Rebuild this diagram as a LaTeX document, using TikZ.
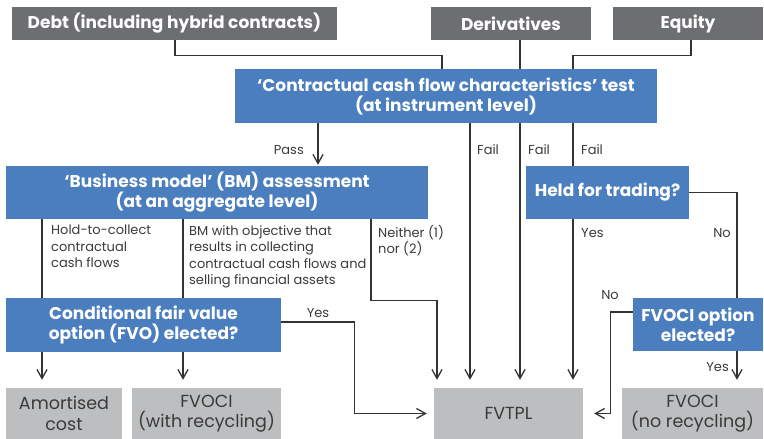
\documentclass[tikz,border=0pt]{standalone}
\usepackage{fontspec}
\setmainfont{Poppins}
\usetikzlibrary{arrows.meta}
\definecolor{bluebox}{HTML}{4A7EBF}
\definecolor{darkbox}{HTML}{6D6E71}
\definecolor{lightbox}{HTML}{BCBEC0}
\definecolor{linec}{HTML}{333333}
\definecolor{textc}{HTML}{3A3A3A}
\tikzset{
  topbox/.style={fill=darkbox, text=white, font=\fontsize{17}{20}\selectfont\bfseries, inner sep=0pt, minimum height=33pt, align=center},
  bluebx/.style={fill=bluebox, text=white, font=\fontsize{17}{20}\selectfont\bfseries, inner sep=0pt, align=center},
  resbox/.style={fill=lightbox, text=textc, font=\fontsize{17.5}{20.5}\selectfont, inner sep=0pt, minimum height=51pt, align=center},
  lbl/.style={text=textc, font=\fontsize{13}{16.5}\selectfont, inner sep=0pt, align=left},
  conn/.style={draw=linec, line width=1.3pt},
  arr/.style={conn, -{Straight Barb[length=9pt,width=10pt]}, shorten >=8pt},
}
\begin{document}
\begin{tikzpicture}[x=1pt,y=-1pt]
\useasboundingbox (0,0) rectangle (764,439);
% top boxes
\node[topbox, minimum width=325pt] (debt) at (174.5,23.5) {Debt (including hybrid contracts)};
\node[topbox, minimum width=160pt] (deriv) at (511,23.5) {Derivatives};
\node[topbox, minimum width=150pt] (equity) at (688,23.5) {Equity};
% blue boxes
\node[bluebx, minimum width=422pt, minimum height=54pt] (ccf) at (446,96) {‘Contractual cash flow characteristics’ test\\(at instrument level)};
\node[bluebx, minimum width=422pt, minimum height=53pt] (bm) at (217,192.5) {‘Business model’ (BM) assessment\\(at an aggregate level)};
\node[bluebx, minimum width=163pt, minimum height=53pt] (hft) at (607.5,192.5) {Held for trading?};
\node[bluebx, minimum width=275pt, minimum height=54pt] (fvo) at (143.5,325) {Conditional fair value\\option (FVO) elected?};
\node[bluebx, minimum width=130pt, minimum height=53pt] (fvoopt) at (698,324.5) {FVOCI option\\elected?};
% result boxes
\node[resbox, minimum width=116pt] (amort) at (64,413.5) {Amortised\\cost};
\node[resbox, minimum width=149pt] (fvoci1) at (206.5,413.5) {FVOCI\\(with recycling)};
\node[resbox, minimum width=149pt] (fvtpl) at (508.5,413.5) {FVTPL};
\node[resbox, minimum width=141pt] (fvoci2) at (692.5,413.5) {FVOCI\\(no recycling)};
% connectors top
\draw[conn] ([xshift=0.5pt]debt.south) -- ++(0,15) -| ([xshift=-4pt]ccf.north);
\draw[conn] ([xshift=9pt]deriv.south) -- ([xshift=74pt]ccf.north);
\draw[conn] ([xshift=3pt]equity.south) -- ++(0,15) -| ([xshift=127pt]ccf.north);
% pass
\draw[arr, shorten >=1pt] ([xshift=-128pt]ccf.south) -- ([xshift=101pt]bm.north);
% fails
\draw[arr] ([xshift=24pt]ccf.south) -- ([xshift=-38.5pt]fvtpl.north);
\draw[arr] ([xshift=74pt]ccf.south) -- ([xshift=11.5pt]fvtpl.north);
\draw[conn] ([xshift=127pt]ccf.south) -- ([xshift=-34.5pt]hft.north);
\draw[arr] ([xshift=-34.5pt]hft.south) -- ([xshift=64.5pt]fvtpl.north);
% held for trading no
\draw[conn] (hft.east) -| ([xshift=39pt]fvoopt.north);
\draw[arr] ([xshift=39pt]fvoopt.south) -- ([xshift=44.5pt]fvoci2.north);
\draw[arr, shorten >=11pt] ([yshift=12.5pt]fvoopt.west) -- ++(-22,0) |- (fvtpl.east);
% BM branches
\draw[conn] ([xshift=-175pt]bm.south) -- ([xshift=-101.5pt]fvo.north);
\draw[conn] ([xshift=-34pt]bm.south) -- ([xshift=39.5pt]fvo.north);
\draw[arr] ([xshift=154pt]bm.south) -- ++(0,81) -| ([xshift=-71.5pt]fvtpl.north);
% FVO
\draw[arr] ([xshift=-101.5pt]fvo.south) -- ([xshift=-22pt]amort.north);
\draw[arr] ([xshift=39.5pt]fvo.south) -- ([xshift=-23.5pt]fvoci1.north);
\draw[arr, shorten >=7pt] ([yshift=3pt]fvo.east) -- ++(73,0) |- (fvtpl.west);
% labels
\node[lbl, anchor=east] (lpass) at (304,150) {Pass};
\node[lbl, anchor=west] (lfail1) at (477,150) {Fail};
\node[lbl, anchor=west] (lfail2) at (528,150) {Fail};
\node[lbl, anchor=west] (lfail3) at (581,150) {Fail};
\node[lbl, anchor=west] (lyes1) at (581,233) {Yes};
\node[lbl, anchor=east] (lno1) at (731,233) {No};
\node[lbl, anchor=north west] (lhold) at (51,225) {Hold-to-collect\\contractual\\cash flows};
\node[lbl, anchor=north west] (lbmobj) at (189,225) {BM with objective that\\results in collecting\\contractual cash flows and\\selling financial assets};
\node[lbl, anchor=north west] (lneither) at (378,225) {Neither (1)\\nor (2)};
\node[lbl] (lyes2) at (318,313) {Yes};
\node[lbl] (lno2) at (610,295) {No};
\node[lbl, anchor=east] (lyes3) at (729,367) {Yes};
\end{tikzpicture}
\end{document}
